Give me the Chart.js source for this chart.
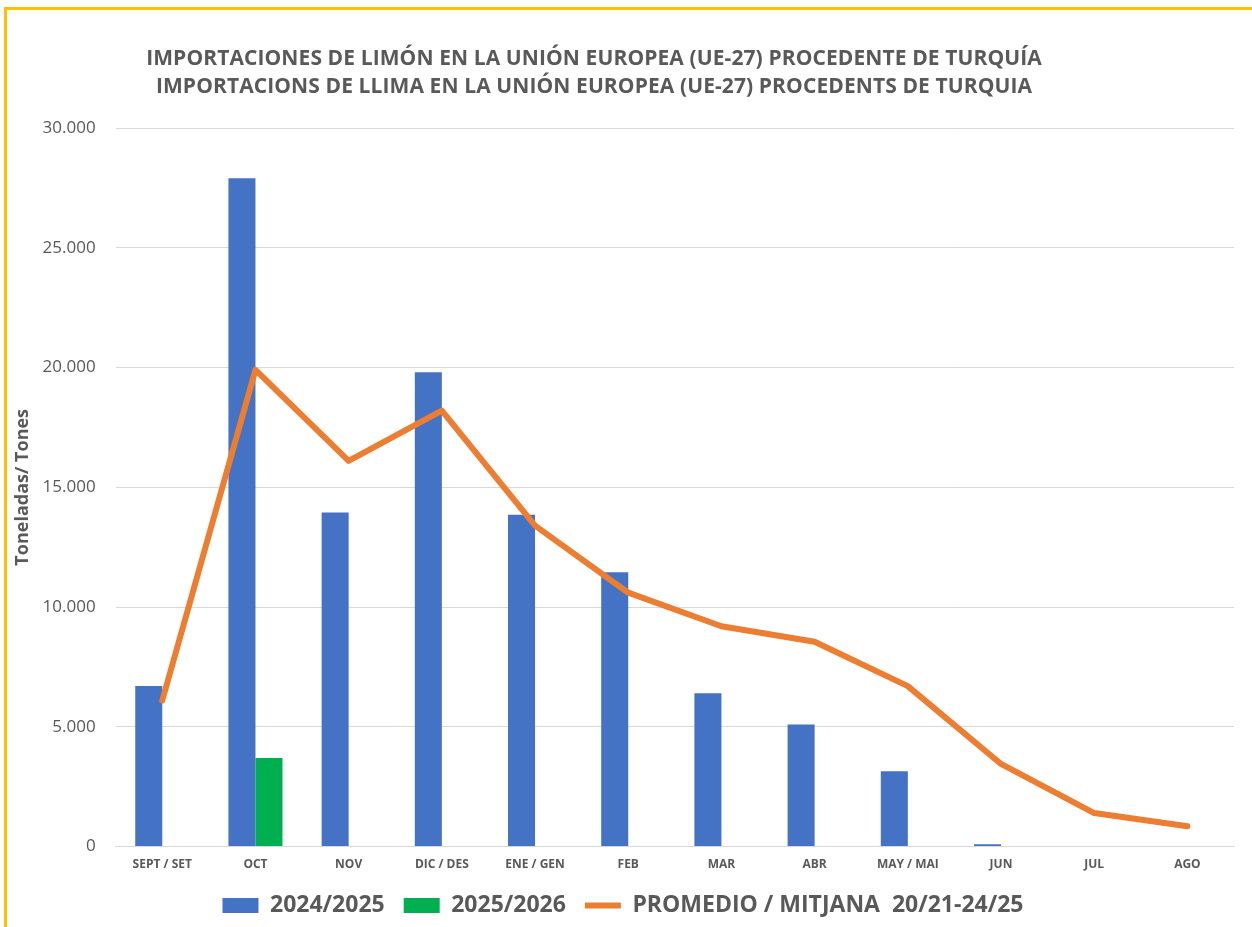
<!DOCTYPE html>
<html>
<head>
<meta charset="utf-8">
<script src="https://cdn.jsdelivr.net/npm/chart.js@4.4.1/dist/chart.umd.min.js"></script>
<style>
  html, body { margin: 0; padding: 0; background: #fff; }
  #wrap { position: relative; width: 1252px; height: 927px; overflow: hidden; }
  #frame { position: absolute; left: 4px; top: 7px; width: 1260px; height: 940px;
           border-top: 3px solid #FFC000; border-left: 3px solid #FFC000; }
  #title { position: absolute; left: 0; top: 43px; width: 1188px; text-align: center;
           font-family: "Open Sans", sans-serif; font-weight: bold; font-size: 21px;
           letter-spacing: 0.1px; line-height: 28px; color: #595959; }
  canvas { position: absolute; left: 0; top: 0; }
</style>
</head>
<body>
<div id="wrap">
  <div id="frame"></div>
  <canvas id="chart" width="1252" height="927"></canvas>
  <div id="title">IMPORTACIONES DE LIMÓN EN LA UNIÓN EUROPEA (UE-27) PROCEDENTE DE TURQUÍA<br>IMPORTACIONS DE LLIMA EN LA UNIÓN EUROPEA (UE-27) PROCEDENTS DE TURQUIA</div>
</div>
<script>
// meses de la campaña
const months = ['SEPT / SET', 'OCT', 'NOV', 'DIC / DES', 'ENE / GEN', 'FEB', 'MAR', 'ABR', 'MAY / MAI', 'JUN', 'JUL', 'AGO'];
// toneladas por campaña
const season2425 = [6700, 27900, 13950, 19800, 13850, 11450, 6400, 5100, 3150, 100, null, null];
const season2526 = [null, 3700, null, null, null, null, null, null, null, null, null, null];
// promedio 20/21-24/25
const average = [6100, 19900, 16100, 18200, 13400, 10600, 9200, 8550, 6700, 3450, 1400, 850];

const grey = '#595959';
const fmt = v => String(v).replace(/\B(?=(\d{3})+(?!\d))/g, '.');

new Chart(document.getElementById('chart'), {
  type: 'bar',
  data: {
    labels: months,
    datasets: [
      { label: '2024/2025', data: season2425, backgroundColor: '#4472C4', order: 1,
        barPercentage: 1, categoryPercentage: 0.58, pointStyle: 'rect' },
      { label: '2025/2026', data: season2526, backgroundColor: '#00B050', order: 1,
        barPercentage: 1, categoryPercentage: 0.58, pointStyle: 'rect' },
      { type: 'line', label: 'PROMEDIO / MITJANA  20/21-24/25', data: average,
        borderColor: '#ED7D31', backgroundColor: '#ED7D31', borderWidth: 6,
        borderCapStyle: 'round', borderJoinStyle: 'round', tension: 0,
        pointRadius: 0, pointStyle: 'line', order: 0 }
    ]
  },
  options: {
    responsive: false,
    animation: false,
    layout: { padding: { top: 128, right: 18, left: 12, bottom: 0 } },
    plugins: {
      title: { display: false },
      tooltip: { enabled: false },
      legend: {
        position: 'bottom',
        labels: {
          usePointStyle: true,
          pointStyleWidth: 36,
          boxHeight: 15,
          padding: 19,
          color: grey,
          font: { family: 'Open Sans', size: 23, weight: 'bold' },
          sort: (a, b) => a.datasetIndex - b.datasetIndex
        }
      }
    },
    scales: {
      x: {
        grid: { display: false },
        border: { color: '#D9D9D9' },
        ticks: { color: grey, padding: 3, font: { family: 'Open Sans', size: 12, weight: 'bold' } }
      },
      y: {
        min: 0, max: 30000,
        ticks: { stepSize: 5000, color: grey, padding: 20, callback: v => fmt(v),
                 font: { family: 'Open Sans', size: 17 } },
        grid: { color: '#D9D9D9', drawTicks: false },
        border: { display: false },
        title: { display: true, text: 'Toneladas/ Tones', color: grey, padding: { top: 0, bottom: -11 },
                 font: { family: 'Open Sans', size: 18, weight: 'bold' } }
      }
    }
  }
});
</script>
</body>
</html>
